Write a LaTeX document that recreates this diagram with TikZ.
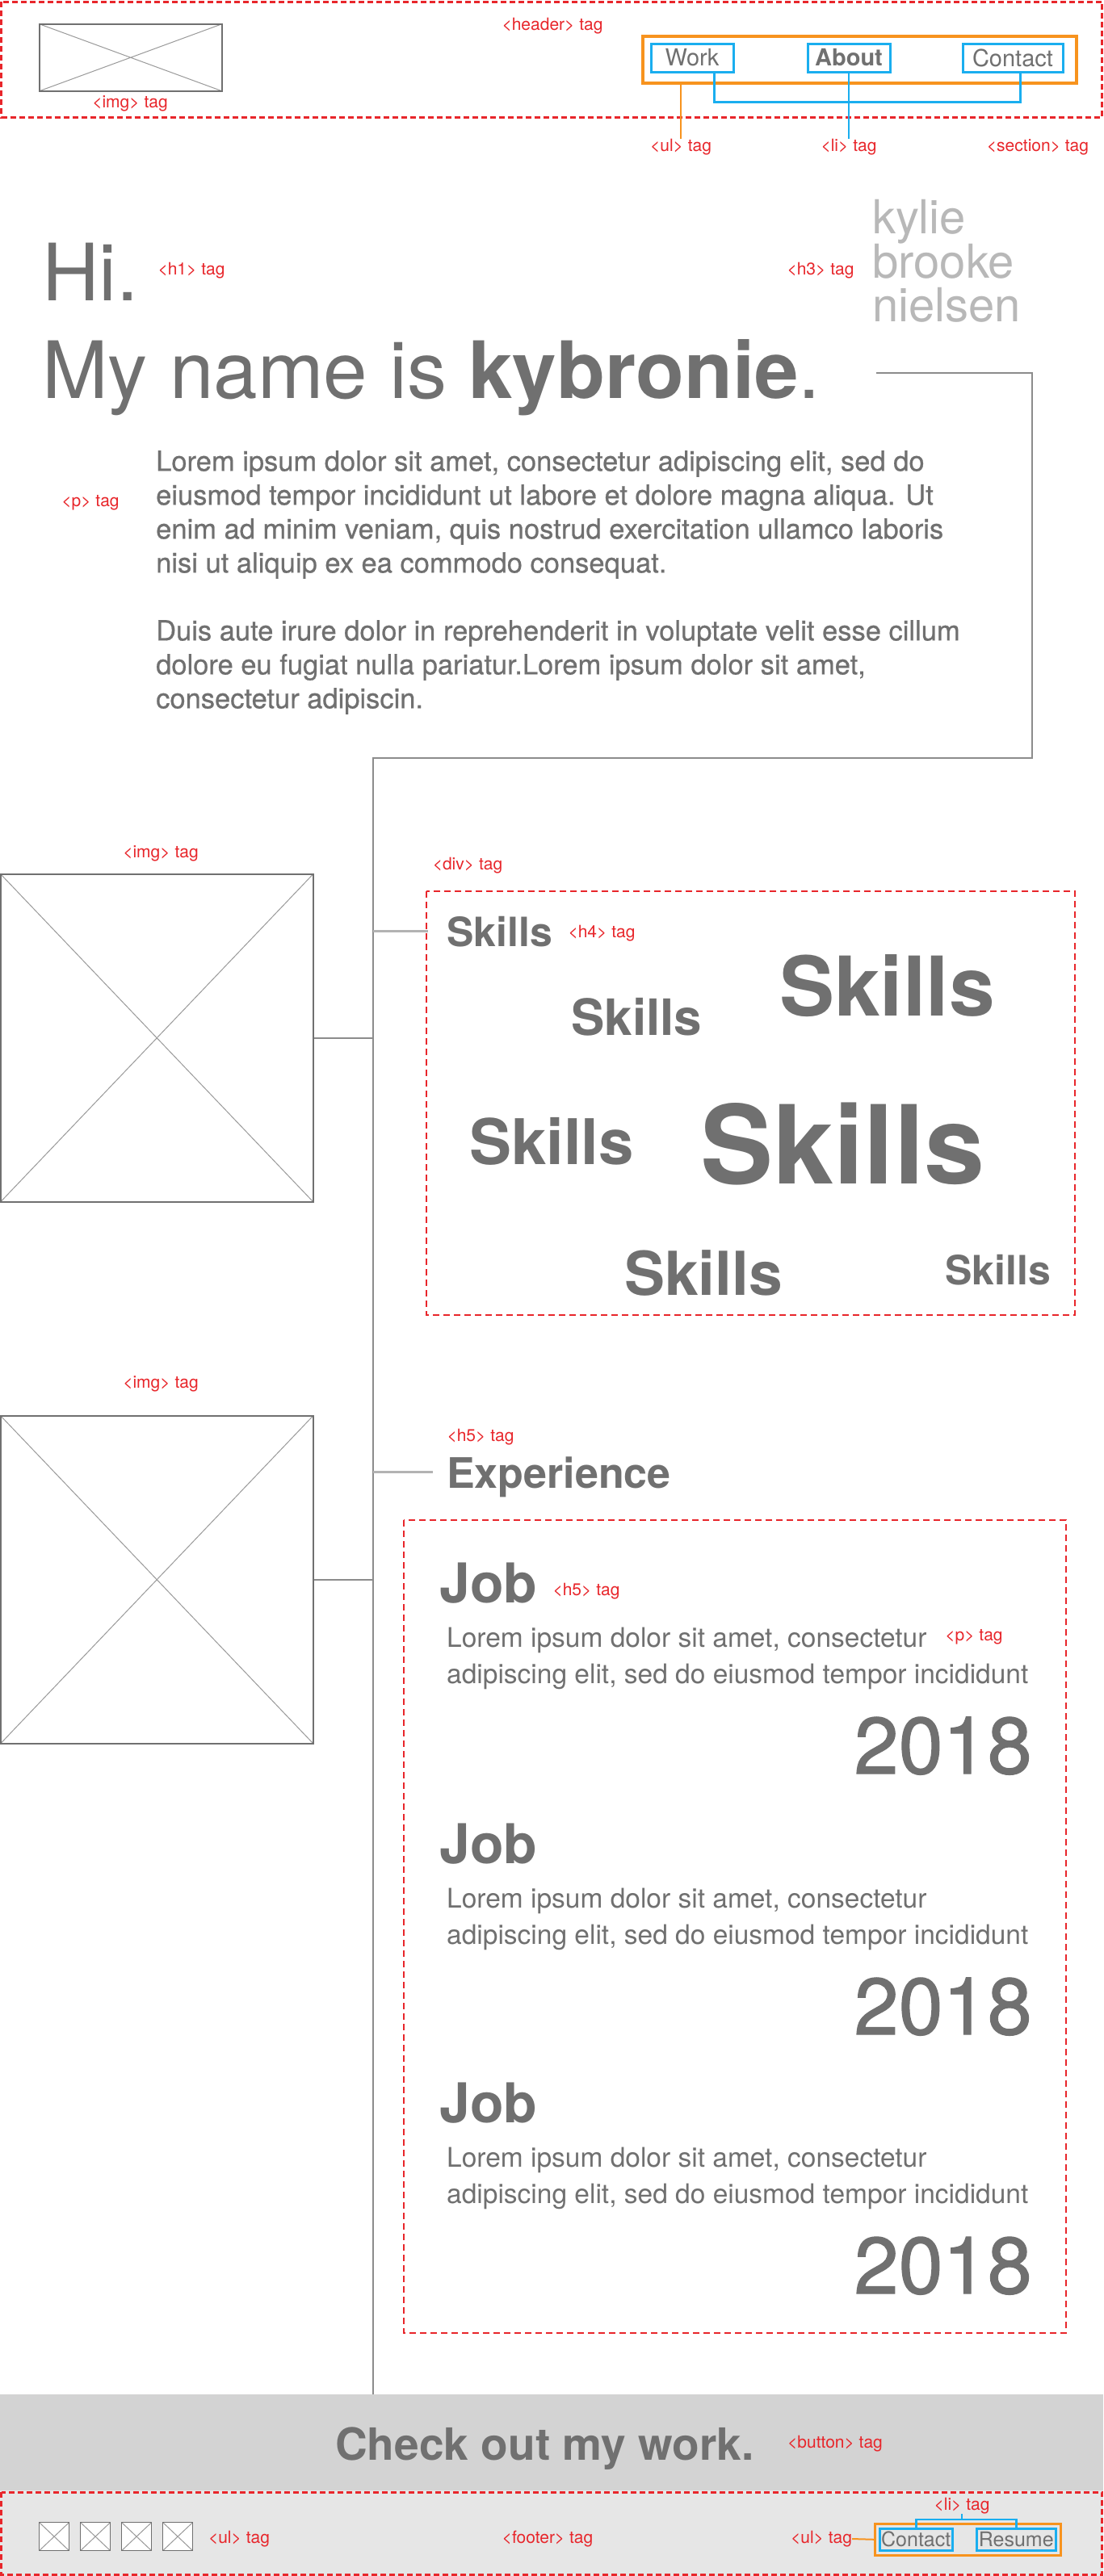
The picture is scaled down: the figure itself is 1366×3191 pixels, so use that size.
\documentclass[tikz,border=0pt]{standalone}
\usepackage{fontspec}
\setmainfont{TeX Gyre Heros}
\usetikzlibrary{positioning}
\definecolor{tagred}{HTML}{E8262B}
\definecolor{inkgrey}{HTML}{707070}
\definecolor{namegrey}{HTML}{B8B8B8}
\definecolor{xgrey}{HTML}{9A9A9A}
\definecolor{navblue}{HTML}{1AAEEF}
\definecolor{navorange}{HTML}{F7931E}
\definecolor{rulegrey}{HTML}{8C8C8C}
\definecolor{stubgrey}{HTML}{B3B3B3}
\definecolor{buttongrey}{HTML}{D3D3D3}
\definecolor{footgrey}{HTML}{E6E6E6}
\tikzset{
  tagnote/.style={font=\fontsize{21}{24}\selectfont, text=tagred, inner sep=0pt},
  imgbox/.style={draw=inkgrey, line width=1.5pt, fill=white, inner sep=0pt,
    anchor=north west,
    path picture={\draw[xgrey, line width=1pt]
      (path picture bounding box.north west) -- (path picture bounding box.south east)
      (path picture bounding box.south west) -- (path picture bounding box.north east);}},
  navitem/.style={draw=navblue, line width=3pt, inner sep=0pt, text=inkgrey,
    font=\fontsize{29}{30}\selectfont},
  navgroup/.style={draw=navorange, line width=3.5pt, inner sep=0pt, anchor=north west},
  navline/.style={draw=navblue, line width=3pt},
  litick/.style={draw=navblue, line width=2pt},
  groupline/.style={draw=navorange, line width=2pt},
  pagebound/.style={draw=tagred, line width=3pt, dash pattern=on 7pt off 4pt},
  blockbound/.style={draw=tagred, line width=2pt, dash pattern=on 8pt off 5pt},
  timeline/.style={draw=rulegrey, line width=1.5pt},
  stub/.style={draw=stubgrey, line width=3pt},
  bodytext/.style={text=inkgrey, inner sep=0pt, align=left, anchor=north west},
  bigline/.style={font=\fontsize{98}{100}\selectfont, text=inkgrey, inner sep=0pt,
    anchor=base west},
  nameline/.style={font=\fontsize{58}{60}\selectfont, text=namegrey, inner sep=0pt,
    anchor=base west},
  skillword/.style={font=\bfseries\fontsize{#1}{#1}\selectfont, text=inkgrey,
    inner sep=0pt, anchor=base west},
  yearmark/.style={font=\fontsize{99}{100}\selectfont\addfontfeatures{FakeBold=1.2},
    text=inkgrey, inner sep=0pt, anchor=base east}
}

\begin{document}
\begin{tikzpicture}[x=1pt,y=-1pt]
  \useasboundingbox[fill=white] (0,0) rectangle (1366,3191);

  % Header
  \draw[pagebound] (1.5,2) rectangle (1364.5,145);
  \node[imgbox, minimum width=226pt, minimum height=83pt] (logo) at (48,29) {};
  \node[tagnote] (logotag) at (161,128) {<img> tag};
  \node[tagnote] (headertag) at (684,32) {<header> tag};
  \node[navgroup, minimum width=537pt, minimum height=58pt] (navbar) at (794,43) {};
  \node[navitem, minimum width=102pt, minimum height=35pt] (work) at (857,71.5) {Work};
  \node[navitem, minimum width=102pt, minimum height=35pt, font=\bfseries\fontsize{29}{30}\selectfont]
    (about) at (1051,71.5) {About};
  \node[navitem, minimum width=124pt, minimum height=35pt] (contact) at (1254,71.5) {Contact};
  \node[tagnote] (ultag) at (843,182) {<ul> tag};
  \node[tagnote] (litag) at (1051,182) {<li> tag};
  \node[tagnote] (sectiontag) at (1285,182) {<section> tag};
  \coordinate (libar) at (1051,126);
  \draw[groupline] (navbar.south -| ultag.north) -- (ultag.north);
  \draw[navline] ([xshift=27pt]work.south) |- (libar) -| ([xshift=9pt]contact.south);
  \draw[litick] (about.south) -- (litag.north);

  % Intro
  \node[bigline] (hi) at (52,372) {Hi.};
  \node[tagnote] (h1tag) at (237,335) {<h1> tag};
  \node[bigline] (title) at (52,493) {My name is \textbf{kybronie}.};
  \node[tagnote] (h3tag) at (1016,335) {<h3> tag};
  \node[nameline] (name1) at (1080,289) {kylie};
  \node[nameline] (name2) at (1080,344) {brooke};
  \node[nameline] (name3) at (1080,398) {nielsen};
  \node[bodytext, font=\fontsize{34.5}{42}\selectfont\addfontfeatures{FakeBold=0.6}]
    (intro) at (193,558)
    {Lorem ipsum dolor sit amet, consectetur adipiscing elit, sed do\\
     eiusmod tempor incididunt ut labore et dolore magna aliqua. Ut\\
     enim ad minim veniam, quis nostrud exercitation ullamco laboris\\
     nisi ut aliquip ex ea commodo consequat.\\[42pt]
     Duis aute irure dolor in reprehenderit in voluptate velit esse cillum\\
     dolore eu fugiat nulla pariatur.Lorem ipsum dolor sit amet,\\
     consectetur adipiscin.};
  \node[tagnote] (ptag) at (112,623) {<p> tag};

  % Timeline
  \node[fill=buttongrey, inner sep=0pt, minimum width=1366pt, minimum height=119pt,
    anchor=north west] (button) at (0,2966) {};
  \coordinate (tlstart) at (1085,462);
  \coordinate (bend) at (1278,939);
  \coordinate (spine) at (462,939);
  \draw[timeline] (tlstart) -| (bend) -- (spine) -- (spine |- button.north);

  % Skills
  \node[imgbox, minimum width=387pt, minimum height=406pt] (skillsimg) at (0,1082) {};
  \node[tagnote] (skillsimgtag) at (199,1057) {<img> tag};
  \draw[timeline] (skillsimg.east) -- (skillsimg.east -| spine);
  \draw[blockbound] (528,1104) rectangle (1331,1629);
  \node[tagnote] (divtag) at (579,1072) {<div> tag};
  \node[skillword=50] (skill1) at (553,1172) {Skills};
  \node[skillword=102] (skill2) at (965,1258) {Skills};
  \node[skillword=62] (skill3) at (707,1282) {Skills};
  \node[skillword=78] (skill4) at (581,1442) {Skills};
  \node[skillword=135] (skill5) at (867,1466) {Skills};
  \node[skillword=75] (skill6) at (773,1604) {Skills};
  \node[skillword=50] (skill7) at (1170,1591) {Skills};
  \node[tagnote] (h4tag) at (745,1156) {<h4> tag};
  \coordinate (skillstub) at (530,1153);
  \draw[stub] (skillstub -| spine) -- (skillstub);

  % Experience
  \node[imgbox, minimum width=387pt, minimum height=406pt] (expimg) at (0,1753) {};
  \node[tagnote] (expimgtag) at (199,1714) {<img> tag};
  \draw[timeline] (expimg.east) -- (expimg.east -| spine);
  \node[tagnote] (h5tag) at (595,1780) {<h5> tag};
  \node[skillword=52] (experience) at (553,1843) {Experience};
  \coordinate (expstub) at (536,1823);
  \draw[stub] (expstub -| spine) -- (expstub);
  \draw[blockbound] (500,1883) rectangle (1320,2890);
  \foreach \i/\y in {1/1985,2/2308,3/2629} {
    \node[skillword=68] (job\i) at (544,\y) {Job};
    \node[bodytext, font=\fontsize{33.5}{45}\selectfont] (jobtext\i) at (553,\y+31)
      {Lorem ipsum dolor sit amet, consectetur\\
       adipiscing elit, sed do eiusmod tempor incididunt};
    \node[yearmark] (year\i) at (1278,\y+212) {2018};
  }
  \node[tagnote] (jobtag) at (726,1971) {<h5> tag};
  \node[tagnote] (jobptag) at (1206,2028) {<p> tag};

  % Button
  \node[skillword=55] (cta) at (415,3047) {Check out my work.};
  \node[tagnote] (buttontag) at (1034,3027) {<button> tag};

  % Footer
  \fill[footgrey] (0,3085) rectangle (1366,3191);
  \draw[pagebound] (1.5,3087) rectangle (1364.5,3189.5);
  \foreach \i/\x in {1/48,2/99,3/150,4/201}
    \node[imgbox, line width=1.2pt, minimum width=37pt, minimum height=35pt] (icon\i) at (\x,3124) {};
  \node[tagnote] (iconstag) at (296,3145) {<ul> tag};
  \node[tagnote] (footertag) at (678,3145) {<footer> tag};
  \node[navgroup, line width=2.5pt, minimum width=230pt, minimum height=39pt] (footnav) at (1082,3125) {};
  \node[navitem, line width=2.5pt, anchor=north west, minimum width=90pt, minimum height=27pt,
    font=\fontsize{25}{26}\selectfont] (footcontact) at (1088,3131) {Contact};
  \node[navitem, line width=2.5pt, anchor=north west, minimum width=98pt, minimum height=27pt,
    font=\fontsize{25}{26}\selectfont] (resume) at (1208,3131) {Resume};
  \node[tagnote] (footultag) at (1017,3145) {<ul> tag};
  \node[tagnote] (footlitag) at (1191,3104) {<li> tag};
  \coordinate (footbar) at (1191,3121);
  \draw[groupline] (footultag.east) -- (footnav.west);
  \draw[navline, line width=2.5pt] (footcontact.north) |- (footbar) -| (resume.north);
  \draw[litick] (footbar) -- (footlitag.south);
\end{tikzpicture}
\end{document}
